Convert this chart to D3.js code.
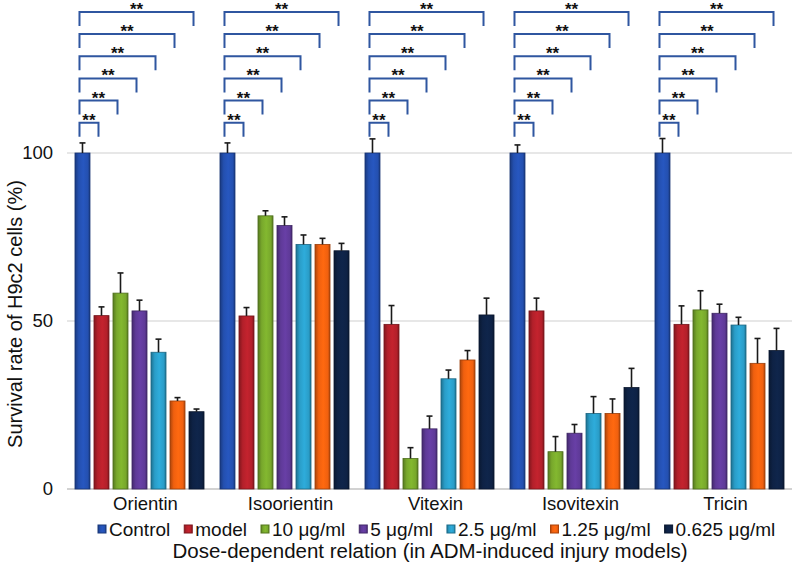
<!DOCTYPE html>
<html>
<head>
<meta charset="utf-8">
<script src="https://cdn.jsdelivr.net/npm/d3@7"></script>
<style>
  body { margin: 0; background: #fff; }
  svg { font-family: "Liberation Sans", Arial, sans-serif; }
</style>
</head>
<body>
<div id="chart"></div>
<script>
// Survival rate of H9c2 cells, dose-dependent, with ** brackets vs control
const categories = ["Orientin", "Isoorientin", "Vitexin", "Isovitexin", "Tricin"];
const series = ["Control", "model", "10 μg/ml", "5 μg/ml", "2.5 μg/ml", "1.25 μg/ml", "0.625 μg/ml"];
const colors = ["#2450b0", "#b3202a", "#78a82c", "#5f3a98", "#2a9dc8", "#f0600f", "#0e2245"];

// means and error bars (upper SD) per compound, in series order
const meanOrientin    = [100, 51.6, 58.3, 53.0, 40.7, 26.2, 23.0];
const errOrientin     = [3.0, 2.6, 6.0, 3.2, 3.9, 1.0, 0.8];
const meanIsoorientin = [100, 51.5, 81.3, 78.4, 72.8, 72.8, 70.9];
const errIsoorientin  = [3.0, 2.5, 1.5, 2.6, 2.8, 1.8, 2.2];
const meanVitexin     = [100, 49.0, 9.1, 17.9, 32.8, 38.4, 51.8];
const errVitexin      = [4.2, 5.6, 3.2, 3.8, 2.6, 2.8, 5.0];
const meanIsovitexin  = [100, 53.0, 11.1, 16.6, 22.5, 22.5, 30.2];
const errIsovitexin   = [2.4, 3.8, 4.5, 2.6, 5.0, 4.3, 5.7];
const meanTricin      = [100, 49.0, 53.3, 52.3, 48.8, 37.4, 41.2];
const errTricin       = [4.3, 5.5, 5.7, 2.7, 2.3, 7.4, 6.6];

const yTicks = [0, 50, 100];
const sigLabel = "**";

const means = [meanOrientin, meanIsoorientin, meanVitexin, meanIsovitexin, meanTricin];
const errs = [errOrientin, errIsoorientin, errVitexin, errIsovitexin, errTricin];

const width = 796, height = 576;
const plotLeft = 67, plotRight = 792, plotBottom = 489;

const svg = d3.select("#chart")
  .append("svg")
  .attr("width", width)
  .attr("height", height);

const x0 = d3.scaleBand()
  .domain(categories)
  .range([plotLeft, plotRight]);

const x1 = d3.scaleBand()
  .domain(series)
  .range([0, x0.bandwidth()])
  .paddingInner(0.21)
  .paddingOuter(0.42);

const y = d3.scaleLinear()
  .domain([0, 100])
  .range([plotBottom, 153]);

// bar gradients (glossy look)
const defs = svg.append("defs");
colors.forEach((c, i) => {
  const g = defs.append("linearGradient")
    .attr("id", "grad" + i)
    .attr("x1", "0%").attr("x2", "100%")
    .attr("y1", "0%").attr("y2", "0%");
  g.append("stop").attr("offset", "0%").attr("stop-color", d3.color(c).darker(0.9));
  g.append("stop").attr("offset", "25%").attr("stop-color", c);
  g.append("stop").attr("offset", "55%").attr("stop-color", d3.color(c).brighter(0.25));
  g.append("stop").attr("offset", "85%").attr("stop-color", c);
  g.append("stop").attr("offset", "100%").attr("stop-color", d3.color(c).darker(0.9));
});

// gridlines
svg.append("g")
  .selectAll("line")
  .data(yTicks)
  .enter()
  .append("line")
    .attr("x1", plotLeft)
    .attr("x2", plotRight)
    .attr("y1", d => y(d))
    .attr("y2", d => y(d))
    .attr("stroke", d => d === 0 ? "#a6a6a6" : "#cfcfcf")
    .attr("stroke-width", 1.2);

// y tick labels
svg.append("g")
  .selectAll("text")
  .data(yTicks)
  .enter()
  .append("text")
    .attr("x", 53)
    .attr("y", d => y(d) + 6)
    .attr("text-anchor", "end")
    .attr("font-size", "18.5px")
    .attr("fill", "#111")
    .text(d => d);

// y axis title
svg.append("text")
  .attr("transform", "translate(22,314) rotate(-90)")
  .attr("text-anchor", "middle")
  .attr("font-size", "20px")
  .attr("fill", "#111")
  .text("Survival rate of H9c2 cells (%)");

// bars
const groups = svg.append("g")
  .selectAll("g")
  .data(categories)
  .enter()
  .append("g")
    .attr("transform", d => `translate(${x0(d)},0)`);

groups.selectAll("rect")
  .data((d, ci) => series.map((s, si) => ({ s, si, v: means[ci][si], e: errs[ci][si] })))
  .enter()
  .append("rect")
    .attr("x", d => x1(d.s))
    .attr("y", d => y(d.v))
    .attr("width", x1.bandwidth())
    .attr("height", d => y(0) - y(d.v))
    .attr("fill", d => `url(#grad${d.si})`)
    .attr("stroke", d => d3.color(colors[d.si]).darker(1.2))
    .attr("stroke-width", 0.8);

// error bars (upper only)
const eb = groups.selectAll("g.err")
  .data((d, ci) => series.map((s, si) => ({ s, si, v: means[ci][si], e: errs[ci][si] })))
  .enter()
  .append("g")
    .attr("class", "err")
    .attr("stroke", "#1a1a1a")
    .attr("stroke-width", 1.6);

eb.append("line")
  .attr("x1", d => x1(d.s) + x1.bandwidth() / 2)
  .attr("x2", d => x1(d.s) + x1.bandwidth() / 2)
  .attr("y1", d => y(d.v))
  .attr("y2", d => y(d.v + d.e));

eb.append("line")
  .attr("x1", d => x1(d.s) + x1.bandwidth() / 2 - 3)
  .attr("x2", d => x1(d.s) + x1.bandwidth() / 2 + 3)
  .attr("y1", d => y(d.v + d.e))
  .attr("y2", d => y(d.v + d.e));

// significance brackets: Control vs each treatment
const brackets = series.slice(1).map((s, i) => ({ s, level: 109 + i * 6.6 }));
groups.each(function() {
  const g = d3.select(this);
  const xc = x1("Control") + x1.bandwidth() / 2 - 3;
  brackets.forEach(b => {
    const xr = x1(b.s) + x1.bandwidth() / 2 - 3;
    const top = y(b.level);
    g.append("path")
      .attr("d", `M${xc},${top + 14}V${top}H${xr}V${top + 14}`)
      .attr("fill", "none")
      .attr("stroke", "#2f56a0")
      .attr("stroke-width", 2);
    g.append("text")
      .attr("x", (xc + xr) / 2)
      .attr("y", top + 3)
      .attr("text-anchor", "middle")
      .attr("font-size", "17px")
      .attr("font-weight", "bold")
      .attr("fill", "#111")
      .text(sigLabel);
  });
});

// category labels
svg.append("g")
  .selectAll("text")
  .data(categories)
  .enter()
  .append("text")
    .attr("x", d => x0(d) + x0.bandwidth() / 2 + 6)
    .attr("y", 510)
    .attr("text-anchor", "middle")
    .attr("font-size", "18.5px")
    .attr("fill", "#111")
    .text(d => d);

// legend
const legend = svg.append("g");
let lx = 98;
series.forEach((s, i) => {
  legend.append("rect")
    .attr("x", lx)
    .attr("y", 525)
    .attr("width", 8)
    .attr("height", 8)
    .attr("fill", `url(#grad${i})`)
    .attr("stroke", d3.color(colors[i]).darker(1));
  const t = legend.append("text")
    .attr("x", lx + 11)
    .attr("y", 536)
    .attr("font-size", "19px")
    .attr("fill", "#111")
    .text(s);
  lx += 11 + t.node().getComputedTextLength() + 14;
});

// x axis title
svg.append("text")
  .attr("x", 430)
  .attr("y", 558)
  .attr("text-anchor", "middle")
  .attr("font-size", "20.5px")
  .attr("fill", "#111")
  .text("Dose-dependent relation (in ADM-induced injury models)");
</script>
</body>
</html>
